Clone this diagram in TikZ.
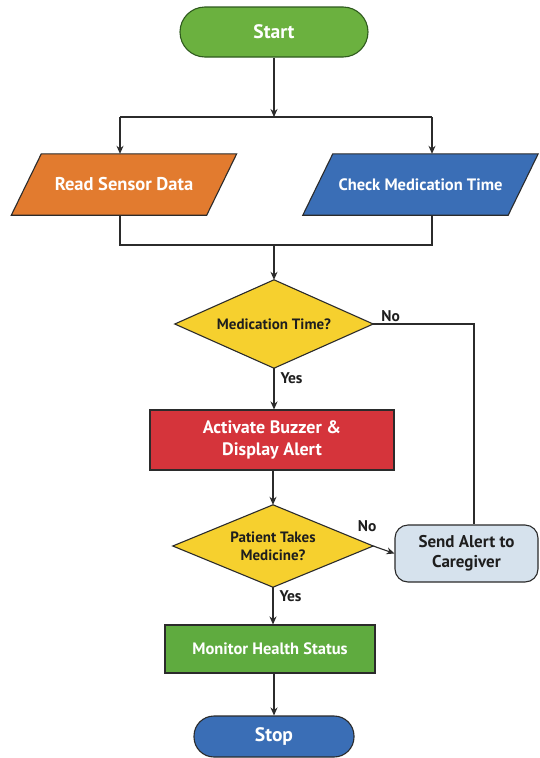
\documentclass[tikz,border=0pt]{standalone}
\usepackage{fontspec}
\setmainfont{PT Sans}
\usetikzlibrary{arrows.meta,calc,backgrounds}
\definecolor{startgreen}{HTML}{6BB13F}
\definecolor{startedge}{HTML}{2F5A1E}
\definecolor{orangefill}{HTML}{E27B2F}
\definecolor{bluefill}{HTML}{3A6EB6}
\definecolor{yellowfill}{HTML}{F6D02E}
\definecolor{redfill}{HTML}{D5343B}
\definecolor{greyblue}{HTML}{D6E2ED}
\definecolor{greenfill}{HTML}{5FAB3F}
\definecolor{linecol}{HTML}{2B2B2B}
\definecolor{darktext}{HTML}{1E1E1E}
\tikzset{
  base/.style={draw=linecol, line width=1.1pt, align=center, inner sep=0pt},
  terminal/.style={base, rectangle, rounded corners=#1},
  iobox/.style={rectangle, align=center, inner sep=0pt, minimum height=61, text=white},
  decision/.style={rectangle, align=center, inner sep=0pt, text=darktext,
     font=\fontsize{15}{18}\selectfont\bfseries},
  outline/.style={draw=linecol, line width=1.1pt, line join=miter},
  procbox/.style={base, rectangle, text=white},
  conn/.style={draw=linecol, line width=1.1pt},
  arr/.style={conn, -{Stealth[length=8pt,width=7pt]}},
  lbl/.style={font=\fontsize{15.5}{17}\selectfont\bfseries, text=darktext, inner sep=0pt}
}
\begin{document}
\begin{tikzpicture}[x=1pt,y=-1pt]
\useasboundingbox (0,0) rectangle (539,758);

% nodes
\node[terminal=25, fill=startgreen, draw=startedge, text=white,
      minimum width=188, minimum height=50,
      font=\fontsize{19.5}{22}\selectfont\bfseries] (start) at (274,32) {Start};
\coordinate (j1) at (274,117);
\node[iobox, minimum width=195, font=\fontsize{18.5}{20}\selectfont\bfseries] (rs) at (124,184.5) {Read Sensor Data};
\node[iobox, minimum width=205, font=\fontsize{16.5}{20}\selectfont\bfseries] (cm) at (420.5,184.5) {Check Medication Time};
\coordinate (rsin) at ([xshift=-4pt]rs.north);
\coordinate (rsout) at ([xshift=-4pt]rs.south);
\coordinate (cmin) at ([xshift=11.5pt]cm.north);
\coordinate (cmout) at ([xshift=11.5pt]cm.south);
\coordinate (j2) at (274,245);
\node[decision, minimum width=198, minimum height=88] (d1) at (274,324) {Medication Time?};
\node[procbox, fill=redfill, minimum width=244, minimum height=60,
      font=\fontsize{18}{22}\selectfont\bfseries] (act) at (272,440)
     {Activate Buzzer \&\\Display Alert};
\node[decision, minimum width=200, minimum height=82] (d2) at (273,546) {Patient Takes\\Medicine?};
\node[base, rectangle, rounded corners=13, fill=greyblue, text=darktext,
      minimum width=143, minimum height=57,
      font=\fontsize{17}{20}\selectfont\bfseries] (send) at (466.5,553.5) {Send Alert to\\Caregiver};
\coordinate (sendtop) at ([xshift=7.5pt]send.north);
\node[procbox, fill=greenfill, minimum width=210, minimum height=48,
      font=\fontsize{16.5}{20}\selectfont\bfseries] (mon) at (270,649) {Monitor Health Status};
\node[terminal=20, fill=bluefill, text=white, minimum width=160, minimum height=41,
      font=\fontsize{19.5}{22}\selectfont\bfseries] (stop) at (274,736.5) {Stop};

% shapes drawn behind the texts
\begin{pgfonlayer}{background}
\fill[white] (0,0) rectangle (539,758);
\filldraw[outline, fill=orangefill] ([xshift=-15pt]rs.south west) -- ([xshift=15pt]rs.north west)
   -- ([xshift=15pt]rs.north east) -- ([xshift=-15pt]rs.south east) -- cycle;
\filldraw[outline, fill=bluefill] ([xshift=-15pt]cm.south west) -- ([xshift=15pt]cm.north west)
   -- ([xshift=15pt]cm.north east) -- ([xshift=-15pt]cm.south east) -- cycle;
\filldraw[outline, fill=yellowfill] (d1.north) -- (d1.east) -- (d1.south) -- (d1.west) -- cycle;
\filldraw[outline, fill=yellowfill] (d2.north) -- (d2.east) -- (d2.south) -- (d2.west) -- cycle;
\end{pgfonlayer}

% connectors
\draw[arr] (start.south) -- (j1);
\draw[conn] (rsin |- j1) -- (cmin |- j1);
\draw[arr] (rsin |- j1) -- (rsin);
\draw[arr] (cmin |- j1) -- (cmin);
\draw[conn] (rsout) -- (rsout |- j2) -- (cmout |- j2) -- (cmout);
\draw[arr] (j2) -- (d1.north);
\draw[arr] (d1.south) -- node[lbl, pos=0.25, anchor=west, xshift=6pt] (yes1) {Yes} (d1.south |- act.north);
\draw[conn] (d1.east) -- (d1.east -| sendtop) -- (sendtop);
\node[lbl, anchor=south west, xshift=8pt, yshift=2pt] (no1) at (d1.east) {No};
\draw[arr] (act.south -| d2.north) -- (d2.north);
\draw[arr] (d2.east) -- (send.west);
\node[lbl, anchor=south, xshift=-6pt, yshift=14pt] (no2) at (d2.east) {No};
\draw[arr] (d2.south) -- node[lbl, pos=0.25, anchor=west, xshift=6pt] (yes2) {Yes} (d2.south |- mon.north);
\draw[arr] (stop.north |- mon.south) -- (stop.north);
\end{tikzpicture}
\end{document}
